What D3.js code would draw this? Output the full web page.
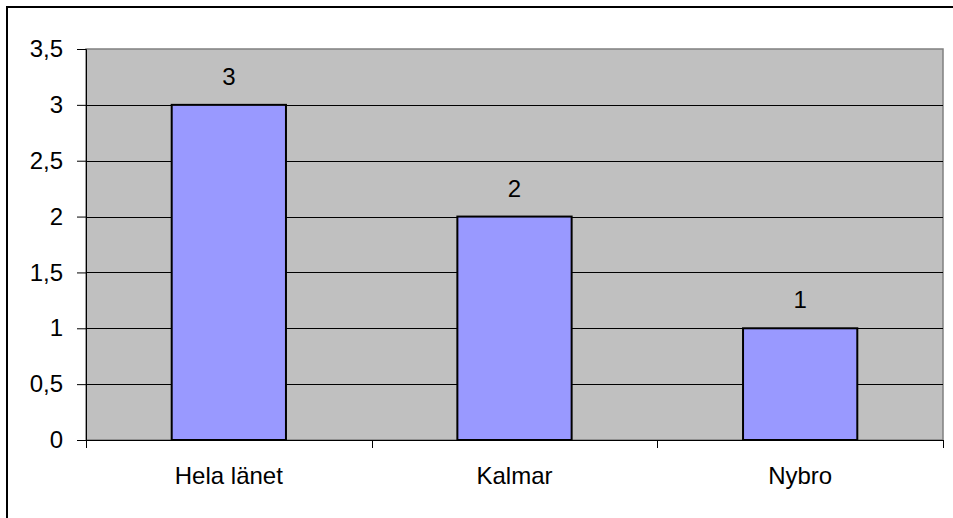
<!DOCTYPE html>
<html><head><meta charset="utf-8">
<script src="https://cdn.jsdelivr.net/npm/d3@7"></script>
<style>body{margin:0;background:#fff;}svg{display:block;font-family:"Liberation Sans",Arial,sans-serif;}</style>
</head><body>
<svg id="c" width="953" height="518"></svg>
<script>
const categories = ["Hela länet", "Kalmar", "Nybro"];
const values = [3, 2, 1];
const yTicks = [0, 0.5, 1, 1.5, 2, 2.5, 3, 3.5];

const FS = 24;
const svg = d3.select("#c");
const m = {left: 86, right: 943, top: 49, bottom: 440};

svg.append("rect").attr("x", 7).attr("y", 7).attr("width", 960).attr("height", 520)
  .attr("fill", "#fff").attr("stroke", "#000").attr("stroke-width", 2);

const x = d3.scaleBand().domain(categories).range([m.left, m.right]).paddingInner(0.6).paddingOuter(0.3);
const xb = d3.scaleBand().domain(categories).range([m.left, m.right]);
const y = d3.scaleLinear().domain([0, 3.5]).range([m.bottom, m.top]);

svg.append("rect").attr("x", m.left).attr("y", m.top).attr("width", m.right - m.left).attr("height", m.bottom - m.top)
  .attr("fill", "#C0C0C0").attr("stroke", "#808080").attr("stroke-width", 1.5);

svg.append("g").selectAll("line").data(yTicks.filter(d => d > 0 && d < 3.5)).join("line")
  .attr("x1", m.left).attr("x2", m.right).attr("y1", d => Math.round(y(d)) + 0.5).attr("y2", d => Math.round(y(d)) + 0.5)
  .attr("stroke", "#000").attr("stroke-width", 1);

svg.append("g").selectAll("rect").data(values).join("rect")
  .attr("x", (d, i) => x(categories[i]) ).attr("width", x.bandwidth())
  .attr("y", d => y(d)).attr("height", d => y(0) - y(d))
  .attr("fill", "#9999FF").attr("stroke", "#000").attr("stroke-width", 2);

svg.append("g").selectAll("text").data(values).join("text")
  .attr("x", (d, i) => x(categories[i]) + x.bandwidth() / 2).attr("y", d => y(d) - 20)
  .attr("text-anchor", "middle").attr("font-size", FS).attr("fill", "#000").text(d => d);

const yAxis = d3.axisLeft(y).tickValues(yTicks).tickSize(9).tickPadding(14)
  .tickFormat(d => String(d).replace(".", ","));
const ga = svg.append("g").attr("transform", `translate(${m.left},0)`).call(yAxis);
ga.attr("font-size", FS).attr("font-family", "Liberation Sans, Arial, sans-serif");
ga.select(".domain").attr("stroke", "#000");
ga.selectAll(".tick line").attr("stroke", "#000");
ga.selectAll("text").attr("font-size", FS).attr("fill", "#000");

const gx = svg.append("g").attr("transform", `translate(0,${m.bottom})`);
gx.append("line").attr("x1", m.left).attr("x2", m.right).attr("y1", 0.5).attr("y2", 0.5).attr("stroke", "#000");
const bounds = [m.left, ...categories.map(c => xb(c) + xb.bandwidth())];
gx.selectAll("line.t").data(bounds).join("line").attr("class", "t")
  .attr("x1", d => Math.round(d) + 0.5).attr("x2", d => Math.round(d) + 0.5).attr("y1", 0).attr("y2", 8).attr("stroke", "#000");
gx.selectAll("text").data(categories).join("text")
  .attr("x", d => xb(d) + xb.bandwidth() / 2).attr("y", 44)
  .attr("text-anchor", "middle").attr("font-size", FS).attr("fill", "#000").text(d => d);
</script>
</body></html>
